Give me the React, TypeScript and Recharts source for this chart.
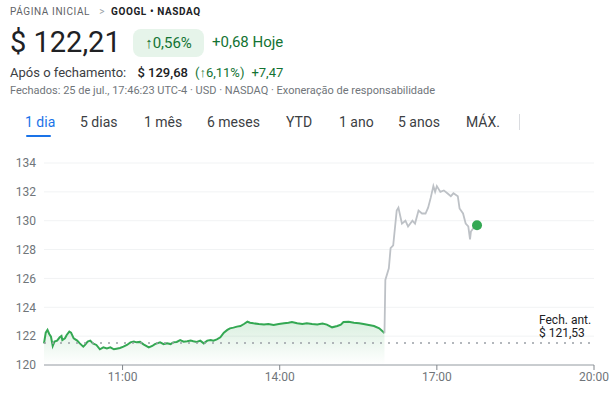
import React from 'react';
import { ComposedChart, Area, Line, XAxis, YAxis, CartesianGrid, ReferenceLine } from 'recharts';

// minutes since midnight, regular session (green)
const regTimes = [
  570, 572, 574, 576, 578, 580, 582, 585, 588, 590, 591, 594, 596, 599, 601, 604,
  608, 611, 615, 617, 620, 623, 626, 630, 634, 638, 642, 646, 650, 653, 657, 661,
  665, 669, 673, 676, 680, 684, 690, 694, 697, 703, 707, 711, 715, 718, 722, 726,
  730, 734, 738, 741, 745, 749, 753, 757, 761, 764, 768, 772, 776, 780, 783, 787,
  791, 795, 799, 803, 806, 810, 816, 822, 827, 833, 839, 845, 850, 854, 860, 866,
  871, 877, 883, 889, 894, 900, 906, 910, 913, 919, 925, 931, 936, 942, 948, 954, 960,
];
const regPrices = [
  121.5, 122.24, 122.43, 122.15, 121.96, 121.32, 121.62, 121.69, 121.92, 122.01, 121.73, 121.85, 122.08, 122.31, 122.24, 121.85,
  121.69, 121.5, 121.27, 121.39, 121.62, 121.69, 121.5, 121.39, 121.09, 121.22, 121.15, 121.22, 121.09, 121.13, 121.18, 121.27,
  121.39, 121.57, 121.62, 121.57, 121.6, 121.43, 121.22, 121.32, 121.45, 121.57, 121.45, 121.5, 121.45, 121.57, 121.6, 121.73,
  121.62, 121.64, 121.69, 121.64, 121.6, 121.69, 121.5, 121.69, 121.73, 121.69, 121.78, 121.92, 122.24, 122.43, 122.54, 122.59,
  122.66, 122.7, 122.84, 123.0, 122.93, 122.89, 122.84, 122.8, 122.84, 122.77, 122.84, 122.89, 122.93, 122.98, 122.89, 122.84,
  122.89, 122.84, 122.8, 122.87, 122.8, 122.61, 122.7, 122.8, 122.98, 123.0, 122.93, 122.89, 122.84, 122.77, 122.7, 122.54, 122.21,
];

// after hours (gray)
const ahTimes = [
  961, 965, 967, 970, 974, 976, 980, 984, 987, 992, 995, 999, 1003, 1007, 1010, 1013,
  1016, 1018, 1020, 1024, 1028, 1032, 1036, 1039, 1044, 1046, 1050, 1053, 1056, 1058, 1059, 1062, 1066,
];
const ahPrices = [
  125.9, 126.7, 128.1, 128.3, 130.7, 130.9, 129.8, 130.0, 129.6, 130.0, 129.8, 130.7, 130.5, 130.5, 130.9, 131.6,
  132.4, 132.0, 132.4, 132.0, 132.1, 131.9, 131.7, 131.9, 131.7, 130.85, 130.5, 129.8, 129.6, 128.7, 129.25, 129.5, 129.68,
];

const prevClose = 121.53;
const yTicks = [120, 122, 124, 126, 128, 130, 132, 134];
const xTicks = [660, 840, 1020, 1200];
const tabs = ['1 dia', '5 dias', '1 mês', '6 meses', 'YTD', '1 ano', '5 anos', 'MÁX.'];
const tabX = [25, 80, 144, 207, 286, 339, 398, 466];

const GREEN = '#34a853';
const TEXT_GREEN = '#137333';
const FONT = 'Roboto, Arial, sans-serif';

const data = [
  ...regTimes.map((t, i) => ({ t, reg: regPrices[i], ah: i === regTimes.length - 1 ? regPrices[i] : undefined })),
  ...ahTimes.map((t, i) => ({ t, ah: ahPrices[i] })),
];
const lastIndex = data.length - 1;

const fmtTime = (m: number) => `${Math.floor(m / 60)}:00`;

const PrevCloseLabel = (props: any) => {
  const { viewBox } = props;
  const x = viewBox.x + viewBox.width - 55;
  return (
    <g fontFamily={FONT} fontSize={12} fill="#202124">
      <text x={x} y={viewBox.y - 19}>Fech. ant.</text>
      <text x={x} y={viewBox.y - 6}>$ 121,53</text>
    </g>
  );
};

const LastDot = (props: any) => {
  const { cx, cy, index } = props;
  if (index !== lastIndex) return <g key={`d-${index}`} />;
  return <circle key={`d-${index}`} cx={cx} cy={cy} r={5} fill={GREEN} />;
};

export default function App() {
  return (
    <div style={{ position: 'absolute', top: 0, left: 0, width: 616, height: 399, background: '#fff', fontFamily: FONT, color: '#202124' }}>
      <div style={{ position: 'absolute', left: 10, top: 6, fontSize: 10, letterSpacing: 0.6, color: '#5f6368', whiteSpace: 'nowrap' }}>
        PÁGINA INICIAL <span style={{ margin: '0 6px', color: '#9aa0a6' }}>&gt;</span>
        <span style={{ color: '#202124', fontWeight: 700 }}>GOOGL • NASDAQ</span>
      </div>
      <div style={{ position: 'absolute', left: 10, top: 25, fontSize: 29, whiteSpace: 'nowrap' }}>$ 122,21</div>
      <div style={{ position: 'absolute', left: 133, top: 29, width: 71, height: 28, borderRadius: 8, background: '#e6f4ea', color: TEXT_GREEN, fontSize: 15, display: 'flex', alignItems: 'center', justifyContent: 'center' }}>
        ↑0,56%
      </div>
      <div style={{ position: 'absolute', left: 212, top: 33, fontSize: 15, color: TEXT_GREEN, whiteSpace: 'nowrap' }}>+0,68 Hoje</div>
      <div style={{ position: 'absolute', left: 10, top: 65, fontSize: 13, color: '#3c4043', whiteSpace: 'nowrap' }}>
        Após o fechamento: <span style={{ color: '#202124', fontWeight: 500, marginLeft: 8 }}>$ 129,68</span>
        <span style={{ color: TEXT_GREEN, marginLeft: 7 }}>(↑6,11%)</span>
        <span style={{ color: TEXT_GREEN, marginLeft: 7 }}>+7,47</span>
      </div>
      <div style={{ position: 'absolute', left: 10, top: 84, fontSize: 11, color: '#70757a', whiteSpace: 'nowrap' }}>
        Fechados: 25 de jul., 17:46:23 UTC-4 · USD · NASDAQ · Exoneração de responsabilidade
      </div>
      {tabs.map((t, i) => (
        <div key={t} style={{ position: 'absolute', left: tabX[i], top: 114, fontSize: 14, color: i === 0 ? '#1a73e8' : '#3c4043', whiteSpace: 'nowrap' }}>
          {t}
        </div>
      ))}
      <div style={{ position: 'absolute', left: 26, top: 135, width: 25, height: 2, background: '#1a73e8', borderRadius: 1 }} />
      <div style={{ position: 'absolute', left: 519, top: 114, width: 1, height: 16, background: '#dadce0' }} />

      <div style={{ position: 'absolute', left: 0, top: 150 }}>
        <ComposedChart width={616} height={249} data={data} margin={{ top: 13, right: 22, left: 0, bottom: 0 }}>
          <defs>
            <linearGradient id="regFill" x1="0" y1="0" x2="0" y2="1">
              <stop offset="0%" stopColor={GREEN} stopOpacity={0.3} />
              <stop offset="100%" stopColor={GREEN} stopOpacity={0} />
            </linearGradient>
          </defs>
          <CartesianGrid horizontal vertical={false} stroke="#f1f3f4" />
          <XAxis
            dataKey="t"
            type="number"
            domain={[570, 1200]}
            ticks={xTicks}
            tickFormatter={fmtTime}
            height={34}
            axisLine={{ stroke: '#9aa0a6' }}
            tickLine={{ stroke: '#80868b' }}
            tickSize={5}
            tick={{ fill: '#70757a', fontSize: 12, fontFamily: FONT }}
          />
          <YAxis
            type="number"
            domain={[120, 134]}
            ticks={yTicks}
            width={44}
            axisLine={false}
            tickLine={false}
            tick={{ fill: '#70757a', fontSize: 12, fontFamily: FONT }}
          />
          <ReferenceLine y={prevClose} stroke="#9aa0a6" strokeDasharray="2 6" strokeWidth={1.5} label={<PrevCloseLabel />} />
          <Area type="linear" dataKey="reg" stroke={GREEN} strokeWidth={2} fill="url(#regFill)" isAnimationActive={false} dot={false} activeDot={false} />
          <Line type="linear" dataKey="ah" stroke="#bdc1c6" strokeWidth={1.8} dot={<LastDot />} activeDot={false} isAnimationActive={false} />
        </ComposedChart>
      </div>
    </div>
  );
}
